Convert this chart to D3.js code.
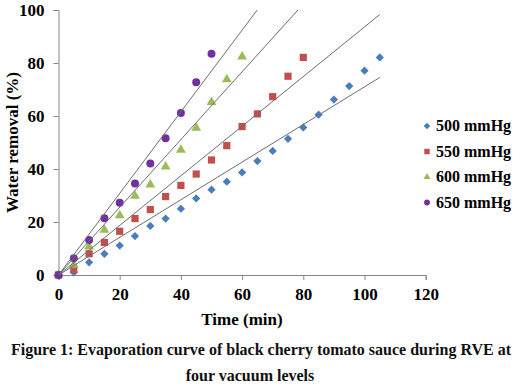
<!DOCTYPE html>
<html>
<head>
<meta charset="utf-8">
<script src="https://cdn.jsdelivr.net/npm/d3@7"></script>
<style>
  body { margin: 0; background: #fff; }
  svg { display: block; font-family: "Liberation Serif", "Times New Roman", serif; font-weight: bold; }
</style>
</head>
<body>
<svg></svg>
<script>
var width = 522;
var height = 388;

// vacuum levels and their readings (time in min, water removal in %)
var series = ['500 mmHg', '550 mmHg', '600 mmHg', '650 mmHg'];
var colors = ['#4a7ebb', '#c0504d', '#9bbb59', '#7030a0'];

var time500 = [0, 5, 10, 15, 20, 25, 30, 35, 40, 45, 50, 55, 60, 65, 70, 75, 80, 85, 90, 95, 100, 105];
var removal500 = [0, 1.0, 4.8, 8.0, 11.1, 14.7, 18.5, 21.3, 25.0, 28.9, 32.2, 35.2, 38.7, 43.0, 46.8, 51.4, 55.7, 60.5, 66.2, 71.3, 77.1, 82.1];

var time550 = [0, 5, 10, 15, 20, 25, 30, 35, 40, 45, 50, 55, 60, 65, 70, 75, 80];
var removal550 = [0, 2.0, 8.0, 12.3, 16.5, 21.3, 24.7, 29.6, 33.8, 38.1, 43.4, 48.8, 56.0, 60.8, 67.3, 75.0, 82.1];

var time600 = [0, 5, 10, 15, 20, 25, 30, 35, 40, 45, 50, 55, 60];
var removal600 = [0, 3.8, 10.7, 17.0, 22.5, 29.8, 34.1, 40.9, 47.2, 55.5, 65.2, 73.8, 82.4];

var time650 = [0, 5, 10, 15, 20, 25, 30, 35, 40, 45, 50];
var removal650 = [0, 6.3, 13.2, 21.4, 27.3, 34.5, 42.1, 51.6, 61.1, 72.7, 83.5];

// linear trend lines through the origin, slope
var trendSlopes = [0.71, 0.936, 1.278, 1.54];
var trendEnd = 105;

var xTicks = [0, 20, 40, 60, 80, 100, 120];
var yTicks = [0, 20, 40, 60, 80, 100];

var times = [time500, time550, time600, time650];
var removals = [removal500, removal550, removal600, removal650];

var x = d3.scaleLinear().domain([0, 120]).range([58.5, 425.7]);
var y = d3.scaleLinear().domain([0, 100]).range([275, 10]);

var svg = d3.select('svg')
        .attr('width', width)
        .attr('height', height);

svg.append('clipPath')
        .attr('id', 'plot-clip')
    .append('rect')
        .attr('x', x(0))
        .attr('y', y(100))
        .attr('width', x(120) - x(0))
        .attr('height', y(0) - y(100));

// axes
var xAxis = svg.append('g')
        .attr('transform', `translate(0, ${y(0)})`)
        .call(d3.axisBottom(x).tickValues(xTicks).tickSize(5).tickPadding(8));

var yAxis = svg.append('g')
        .attr('transform', `translate(${x(0)}, 0)`)
        .call(d3.axisLeft(y).tickValues(yTicks).tickSize(5).tickPadding(9));

[xAxis, yAxis].forEach(function(a) {
    a.select('.domain').attr('stroke', '#868686');
    a.selectAll('.tick line').attr('stroke', '#868686');
    a.selectAll('.tick text')
        .attr('fill', '#000')
        .style('font-family', '"Liberation Serif", serif')
        .style('font-weight', 'bold')
        .style('font-size', '17px');
});

// markers
var symbols = [
    d3.symbol().type(d3.symbolSquare).size(34),
    d3.symbol().type(d3.symbolSquare).size(52),
    d3.symbol().type(d3.symbolTriangle).size(42),
    d3.symbol().type(d3.symbolCircle).size(50)
];
var rotations = [45, 0, 0, 0];

series.forEach(function(name, i) {
    var pts = times[i].map((t, j) => ({ t: t, v: removals[i][j] }));
    svg.append('g')
            .selectAll('path')
            .data(pts)
        .enter()
        .append('path')
            .attr('d', symbols[i])
            .attr('fill', colors[i])
            .attr('transform', d => `translate(${x(d.t)}, ${y(d.v)}) rotate(${rotations[i]})`);
});

// trend lines
var trend = svg.append('g').attr('clip-path', 'url(#plot-clip)');
trendSlopes.forEach(function(k) {
    trend.append('line')
        .attr('x1', x(0))
        .attr('y1', y(0))
        .attr('x2', x(trendEnd))
        .attr('y2', y(k * trendEnd))
        .attr('stroke', '#6e6e6e')
        .attr('stroke-width', 1);
});

// legend
var legendY = [126, 151.5, 177, 202.5];
var legend = svg.append('g')
        .selectAll('g')
        .data(series)
    .enter()
    .append('g')
        .attr('transform', (d, i) => `translate(427, ${legendY[i]})`);

legend.append('path')
        .attr('d', (d, i) => d3.symbol().type([d3.symbolSquare, d3.symbolSquare, d3.symbolTriangle, d3.symbolCircle][i]).size([22, 30, 22, 26][i])())
        .attr('transform', (d, i) => `rotate(${rotations[i]})`)
        .attr('fill', (d, i) => colors[i]);

legend.append('text')
        .attr('x', 9)
        .attr('y', 5)
        .style('font-size', '16px')
        .text(d => d);

// axis titles
svg.append('text')
        .attr('transform', `translate(18, ${(y(0) + y(100)) / 2}) rotate(-90)`)
        .attr('text-anchor', 'middle')
        .style('font-size', '17px')
        .text('Water removal (%)');

svg.append('text')
        .attr('x', 242)
        .attr('y', 325)
        .attr('text-anchor', 'middle')
        .style('font-size', '17px')
        .text('Time (min)');

// figure caption
svg.append('text')
        .attr('x', 261)
        .attr('y', 355)
        .attr('text-anchor', 'middle')
        .attr('fill', '#111')
        .style('font-size', '16px')
        .text('Figure 1: Evaporation curve of black cherry tomato sauce during RVE at');

svg.append('text')
        .attr('x', 250)
        .attr('y', 381)
        .attr('text-anchor', 'middle')
        .attr('fill', '#111')
        .style('font-size', '16px')
        .text('four vacuum levels');
</script>
</body>
</html>
